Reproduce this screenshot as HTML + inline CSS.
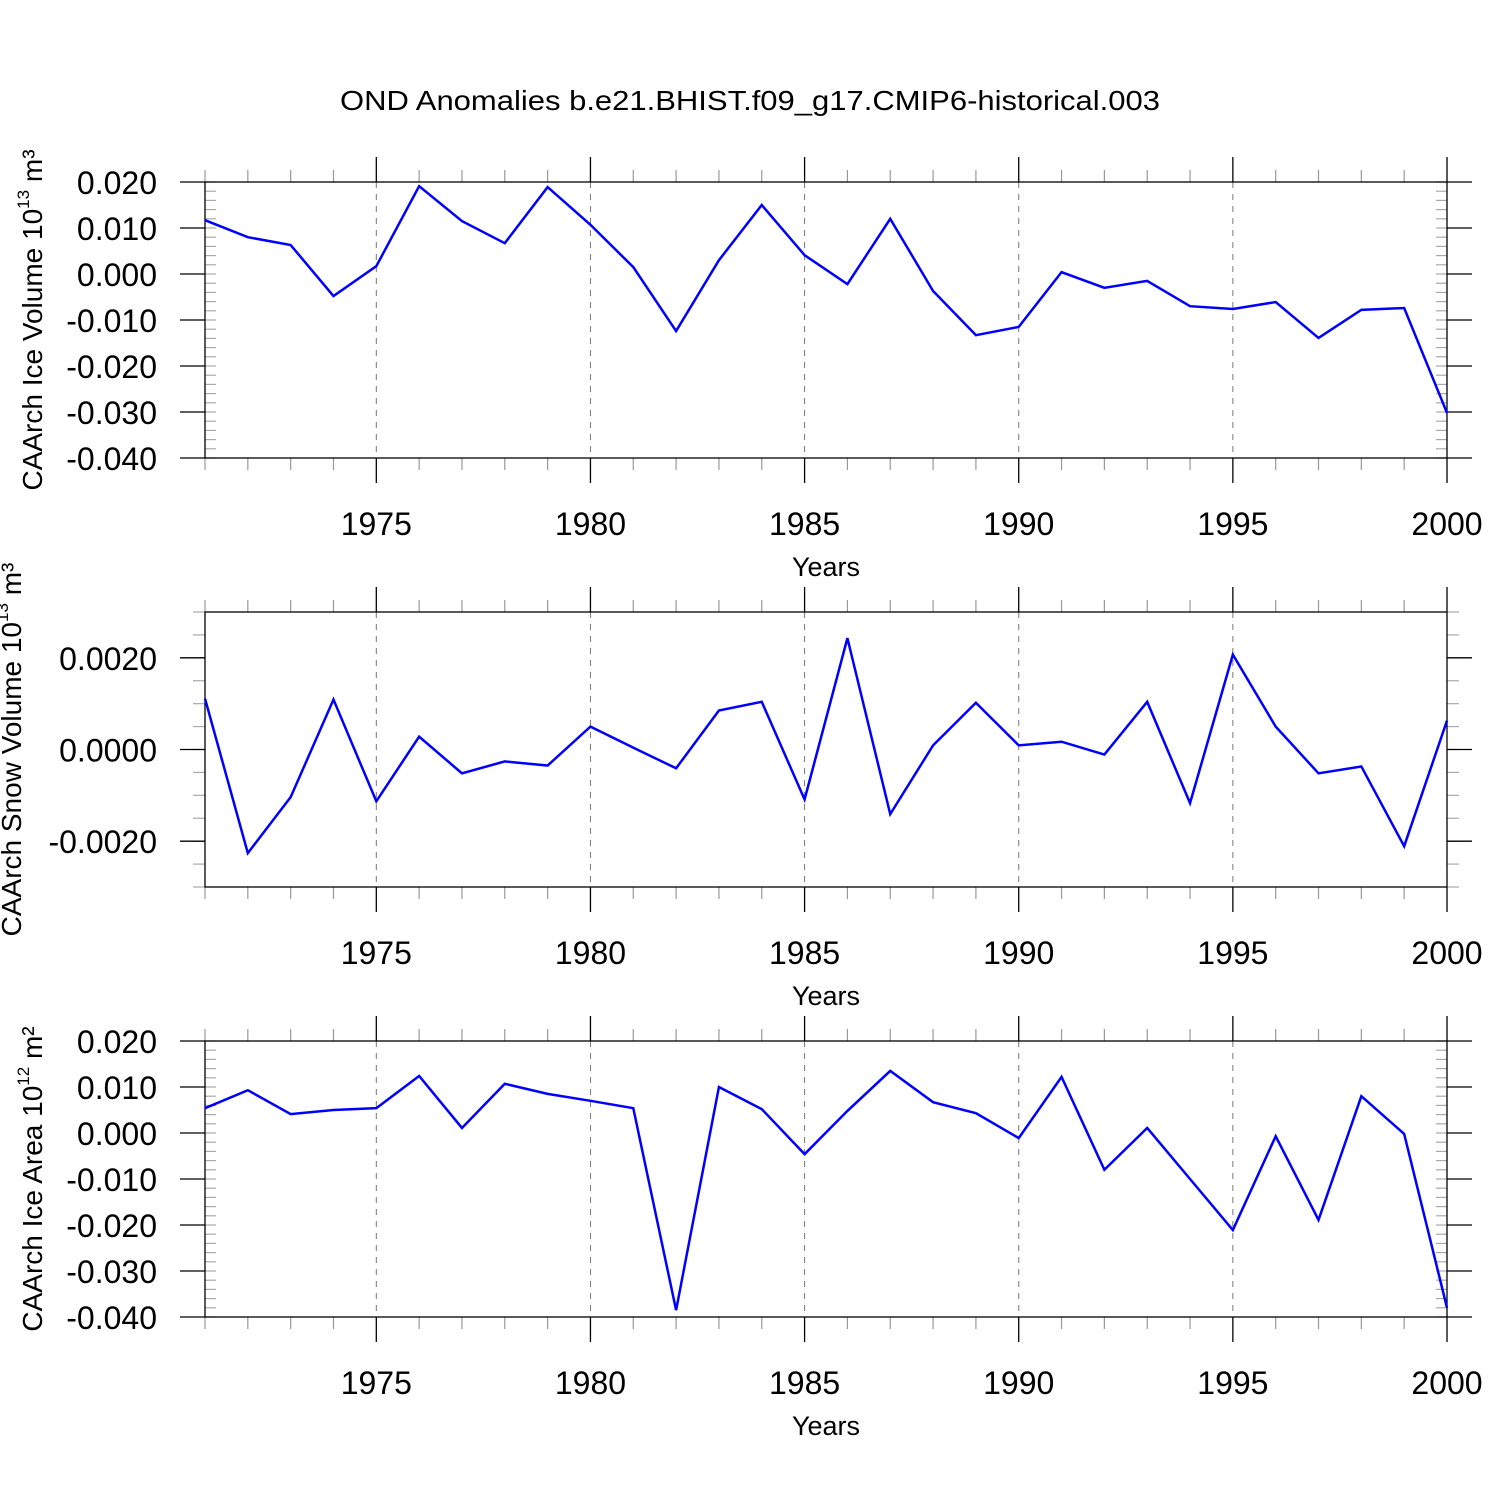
<!DOCTYPE html>
<html><head><meta charset="utf-8"><style>
html,body{margin:0;padding:0;background:#fff;}
svg{display:block;font-family:"Liberation Sans",sans-serif;}
</style></head><body>
<svg id="chart" width="1500" height="1500" viewBox="0 0 1500 1500" xmlns="http://www.w3.org/2000/svg">
<rect width="1500" height="1500" fill="#fff"/>
<text x="750" y="110" font-size="28" text-anchor="middle" textLength="820" lengthAdjust="spacingAndGlyphs">OND Anomalies b.e21.BHIST.f09_g17.CMIP6-historical.003</text>
</svg>
<script>
const years = [1971,1972,1973,1974,1975,1976,1977,1978,1979,1980,1981,1982,1983,1984,1985,1986,1987,1988,1989,1990,1991,1992,1993,1994,1995,1996,1997,1998,1999,2000];
const iceVolume = [0.0117,0.0080,0.0063,-0.0048,0.0017,0.0191,0.0115,0.0067,0.0189,0.0107,0.0015,-0.0124,0.0030,0.0150,0.0041,-0.0022,0.0120,-0.0037,-0.0133,-0.0115,0.0004,-0.0030,-0.0015,-0.0070,-0.0076,-0.0061,-0.0139,-0.0078,-0.0074,-0.0302];
const snowVolume = [0.00111,-0.00226,-0.00104,0.00109,-0.00113,0.00028,-0.00052,-0.00026,-0.00035,0.00050,0.00004,-0.00041,0.00085,0.00104,-0.00109,0.00243,-0.00141,0.00009,0.00102,0.00009,0.00017,-0.00011,0.00104,-0.00117,0.00207,0.00050,-0.00052,-0.00037,-0.00211,0.00063];
const iceArea = [0.0054,0.0093,0.0041,0.0050,0.0054,0.0124,0.0011,0.0107,0.0085,0.0070,0.0054,-0.0385,0.0100,0.0052,-0.0046,0.0048,0.0135,0.0067,0.0043,-0.0011,0.0122,-0.0080,0.0011,-0.0100,-0.0211,-0.0007,-0.0189,0.0080,-0.0002,-0.0380];
const xTicks = [1975,1980,1985,1990,1995,2000];
const yTicksA = [0.020,0.010,0.000,-0.010,-0.020,-0.030,-0.040];
const yLabelsA = ["0.020","0.010","0.000","-0.010","-0.020","-0.030","-0.040"];
const yTicksB = [0.002,0.000,-0.002];
const yLabelsB = ["0.0020","0.0000","-0.0020"];

const NS="http://www.w3.org/2000/svg";
const svg=document.getElementById('chart');
const X0=205,X1=1447;
function xs(yr){return X0+(yr-1971)*(X1-X0)/29;}
function mk(tag,attrs,parent){const e=document.createElementNS(NS,tag);for(const k in attrs)e.setAttribute(k,attrs[k]);(parent||svg).appendChild(e);return e;}

function panel(name,top,bot,ymin,ymax,values,ticks,labels,minorStep,minorIn,titleParts,titleX,titleLen){
  const g=mk('g',{});
  
  
  const ys=v=>bot-(v-ymin)*(bot-top)/(ymax-ymin);
  xTicks.forEach(t=>{ if(t<2000){const l=mk('line',{x1:xs(t),x2:xs(t),y1:top,y2:bot,stroke:'#777','stroke-width':1,'stroke-dasharray':'6,6'},g);
    
    }});
  for(let yr=1971;yr<=2000;yr++){
    const maj=xTicks.includes(yr);const len=maj?25:12;
    mk('line',{x1:xs(yr),x2:xs(yr),y1:top,y2:top-len,stroke:maj?'#000':'#999','stroke-width':maj?1.3:1.2},g);
    mk('line',{x1:xs(yr),x2:xs(yr),y1:bot,y2:bot+len,stroke:maj?'#000':'#999','stroke-width':maj?1.3:1.2},g);
  }
  const n=Math.round((ymax-ymin)/minorStep);
  for(let i=0;i<=n;i++){const v=ymin+i*minorStep;const y=ys(v);
    if(minorIn){mk('line',{x1:X0,x2:X0+11,y1:y,y2:y,stroke:'#aaa','stroke-width':1.2},g);mk('line',{x1:X1,x2:X1-11,y1:y,y2:y,stroke:'#aaa','stroke-width':1.2},g);}
    else{mk('line',{x1:X0,x2:X0-12,y1:y,y2:y,stroke:'#aaa','stroke-width':1.2},g);mk('line',{x1:X1,x2:X1+12,y1:y,y2:y,stroke:'#aaa','stroke-width':1.2},g);}
  }
  ticks.forEach((v,i)=>{const y=ys(v);
    mk('line',{x1:X0,x2:X0-25,y1:y,y2:y,stroke:'#000','stroke-width':1.3},g);
    mk('line',{x1:X1,x2:X1+25,y1:y,y2:y,stroke:'#000','stroke-width':1.3},g);
    const t=mk('text',{x:157,y:y+12,'font-size':32,'text-anchor':'end'},g);t.textContent=labels[i];
    
    
  });
  mk('rect',{x:X0,y:top,width:X1-X0,height:bot-top,fill:'none',stroke:'#000','stroke-width':1.3},g);
  xTicks.forEach(t=>{const tx=mk('text',{x:xs(t),y:bot+77,'font-size':32,'text-anchor':'middle'},g);tx.textContent=t;
    
    });
  const xt=mk('text',{x:826,y:bot+118,'font-size':27,'text-anchor':'middle'},g);xt.textContent='Years';
  
  
  const cy=(top+bot)/2;
  const yt=mk('text',{x:0,y:0,'font-size':28,'text-anchor':'middle',transform:`translate(${titleX},${cy}) rotate(-90)`},g);
  
  
  const s1=mk('tspan',{},yt);s1.textContent=titleParts[0];
  const s2=mk('tspan',{dy:-13,'font-size':17},yt);s2.textContent=titleParts[1];
  const s3=mk('tspan',{dy:13},yt);s3.textContent=titleParts[2];
  const pts=values.map((v,i)=>xs(years[i])+','+ys(v)).join(' ');
  const pl=mk('polyline',{points:pts,fill:'none',stroke:'#0000ff','stroke-width':2.5,'stroke-linejoin':'miter'},g);
  
  
}
panel('ice-volume',182,458,-0.040,0.020,iceVolume,yTicksA,yLabelsA,0.002,true,['CAArch Ice Volume 10','13','  m³'],42);
panel('snow-volume',612,887,-0.003,0.003,snowVolume,yTicksB,yLabelsB,0.0005,false,['CAArch Snow Volume 10','13','  m³'],21);
panel('ice-area',1041,1317,-0.040,0.020,iceArea,yTicksA,yLabelsA,0.002,true,['CAArch Ice Area 10','12','  m²'],42);
</script>
</body></html>
